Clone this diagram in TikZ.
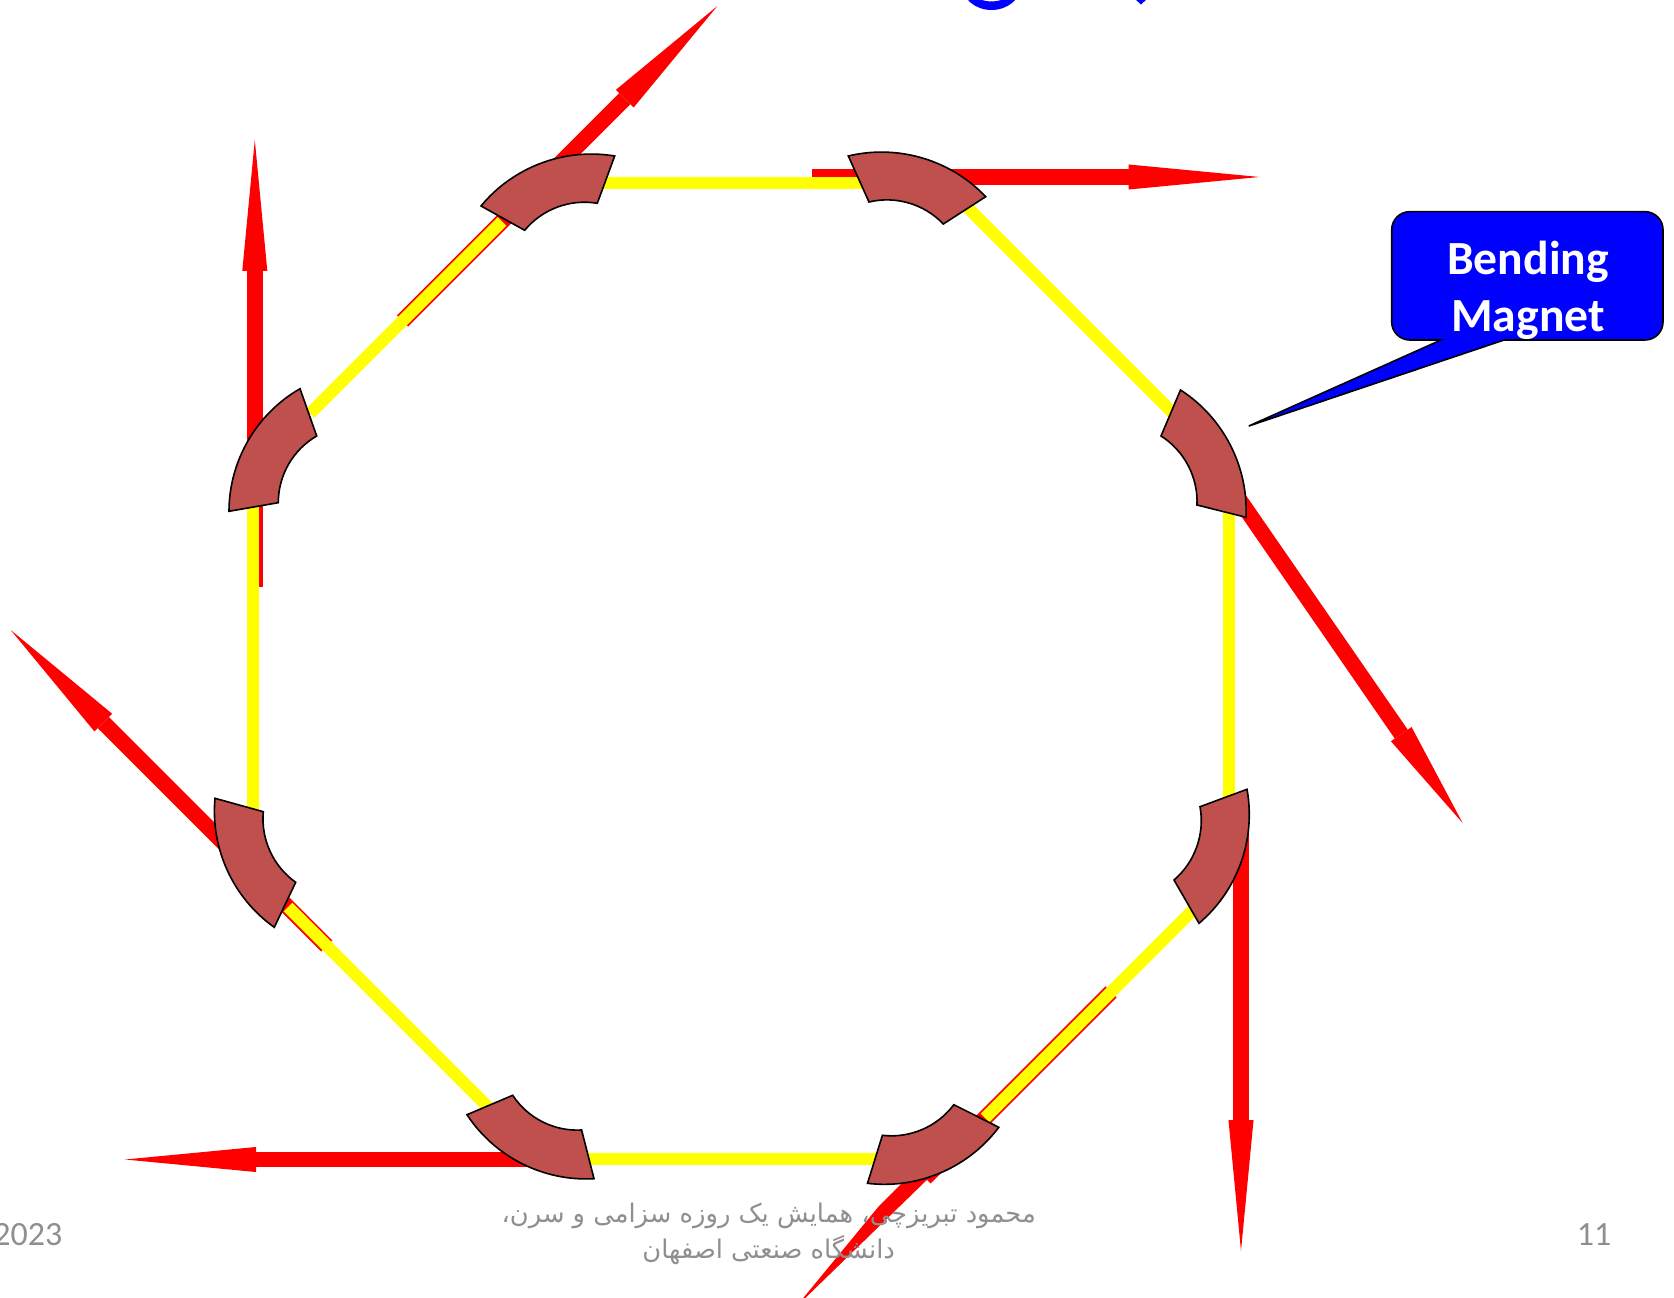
\documentclass[tikz,border=0pt]{standalone}
\usepackage{fontspec}
\setmainfont{Carlito}
\newfontfamily\arabicfont[Script=Arabic]{DejaVu Sans}
\TeXXeTstate=1
\usetikzlibrary{calc}
\definecolor{magnetred}{HTML}{C0504D}
\definecolor{footgray}{HTML}{8F8F8F}
\definecolor{beamred}{HTML}{FF0000}
\definecolor{driftyellow}{HTML}{FFFF00}
\definecolor{boxblue}{HTML}{0000FF}
\tikzset{
  beamshaft/.style={draw=beamred,line width=11.8pt},
  beamhead/.style={fill=beamred},
  drift/.style={draw=driftyellow,line width=9.2pt},
  magnetbody/.style={fill=magnetred,draw=black,line width=1.2pt,line join=miter},
  calloutbody/.style={fill=boxblue,draw=black,line width=1.2pt},
  calloutlabel/.style={text=white,font=\fontsize{35.7}{42.5}\selectfont\bfseries,align=center},
  footlabel/.style={text=footgray,font=\fontsize{25.5}{30}\selectfont},
  footarabic/.style={text=footgray,font=\arabicfont\fontsize{19.3}{27}\selectfont,align=center}
}
\newcommand{\magnetshape}[4]{\path[magnetbody] #1 to[bend left=30,looseness=0.91] #2 -- #3 to[bend right=30,looseness=0.91] #4 -- cycle;}
\newcommand{\beamarrow}[3][98.25pt]{%
  \coordinate (#3base) at ($(#3)!#1!(#2)$);
  \draw[beamshaft] (#2) -- (#3base);
  \fill[beamhead] (#3) -- ($(#3base)!9.4pt!90:(#3)$) -- ($(#3base)!9.4pt!-90:(#3)$) -- cycle;}
\begin{document}
\begin{tikzpicture}[x=0.75pt,y=-0.75pt]
\useasboundingbox (0,0) rectangle (1674,1298);
\clip (0,0) rectangle (1674,1298);
% clipped title fragments
\fill[boxblue,even odd rule] (991.5,-16) ellipse [x radius=30,y radius=26] (991.5,-16) ellipse [x radius=24,y radius=17.5];
\fill[boxblue] (1135,-1) -- (1141,4.5) -- (1147,-1) -- cycle;
% beam coordinates
\coordinate (a1) at (812,177);      \coordinate (a2) at (1259.5,177);
\coordinate (b1) at (1232,489);     \coordinate (b2) at (1462.6,823);
\coordinate (c1) at (1241,800);     \coordinate (c2) at (1241,1251);
\coordinate (d1) at (1111,992);     \coordinate (d2) at (925,1178);
\coordinate (e1) at (530,1159.5);   \coordinate (e2) at (125,1159.5);
\coordinate (f1) at (326.7,946);    \coordinate (f2) at (10.7,630);
\coordinate (g1) at (254.8,586.5);  \coordinate (g2) at (254.8,140);
\coordinate (h1) at (402.5,321);    \coordinate (h2) at (717.4,6);
% radiation beams (beneath the drift tubes)
\beamarrow{a1}{a2}
\beamarrow[81pt]{b1}{b2}
\beamarrow{c1}{c2}
\draw[beamshaft] (d1) -- (d2);
\fill[beamhead] (879,1206) -- (795,1308) -- (935,1172) -- (905,1180) -- cycle;
\beamarrow{e1}{e2}
\beamarrow{f1}{f2}
\beamarrow{g1}{g2}
\beamarrow{h1}{h2}
% drift sections
\coordinate (s1a) at (590,183);   \coordinate (s1b) at (880,183);
\coordinate (s2a) at (966,206);   \coordinate (s2b) at (1174,414);
\coordinate (s3a) at (1229,500);  \coordinate (s3b) at (1229,810);
\coordinate (s4a) at (1195,908);  \coordinate (s4b) at (985,1118);
\coordinate (s5a) at (890,1159);  \coordinate (s5b) at (575,1159);
\coordinate (s6a) at (491,1110);  \coordinate (s6b) at (288,907);
\coordinate (s7a) at (252.8,810); \coordinate (s7b) at (252.8,490);
\coordinate (s8a) at (310,413.5); \coordinate (s8b) at (502,221.5);
\draw[drift] (s1a) -- (s1b);
\draw[drift] (s2a) -- (s2b);
\draw[drift] (s3a) -- (s3b);
\draw[drift] (s4a) -- (s4b);
\draw[drift] (s5a) -- (s5b);
\draw[drift] (s6a) -- (s6b);
\draw[drift] (s7a) -- (s7b);
\draw[drift] (s8a) -- (s8b);
% bending magnets
\magnetshape{(481,206)}{(614.7,156)}{(597.3,203.3)}{(524.7,230.3)}
\magnetshape{(848.3,156)}{(985.7,196.7)}{(943.3,224)}{(869,202)}
\magnetshape{(1180.5,390)}{(1246,517.3)}{(1197,505)}{(1161,436)}
\magnetshape{(1247,789.3)}{(1199,923.3)}{(1174,880)}{(1200,806.7)}
\magnetshape{(998.8,1127.3)}{(867.5,1183.3)}{(882.4,1135.3)}{(953.8,1104.7)}
\magnetshape{(594,1178.7)}{(467,1114.7)}{(512.7,1095.3)}{(581.6,1130)}
\magnetshape{(274.3,927.3)}{(215,798.3)}{(263.3,811.7)}{(295.7,882.3)}
\magnetshape{(229,511.3)}{(300,388.7)}{(316.7,436)}{(278.3,502.7)}
% callout
\path[calloutbody,line join=miter]
  (1441,340) -- (1248.8,426) -- (1504,340)
  -- (1645,340) arc[start angle=90,end angle=0,radius=18]
  -- (1663,229.7) arc[start angle=0,end angle=-90,radius=18]
  -- (1409.7,211.7) arc[start angle=-90,end angle=-180,radius=18]
  -- (1391.7,322) arc[start angle=180,end angle=90,radius=18]
  -- cycle;
\node[calloutlabel] (bend) at (1528,290) {Bending\\Magnet};
% footer
\node[footlabel,anchor=east] (year) at (67,1235) {2023};
\node[footlabel,anchor=east] (page) at (1616,1235) {11};
\node[footarabic] (foot) at (768.7,1234) {\beginR محمود تبریزچی، همایش یک روزه سزامی و سرن،\endR\\\beginR دانشگاه صنعتی اصفهان\endR};
\end{tikzpicture}
\end{document}
